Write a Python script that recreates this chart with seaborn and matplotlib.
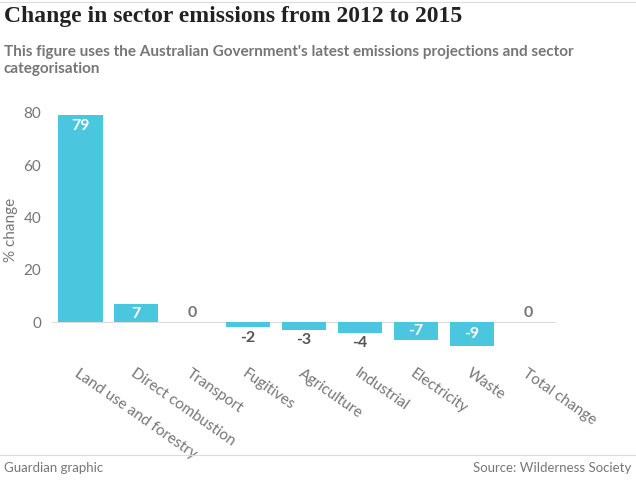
import matplotlib
matplotlib.use("Agg")
import matplotlib.pyplot as plt
import seaborn as sns
import pandas as pd

sectors = ["Land use and forestry", "Direct combustion", "Transport", "Fugitives",
           "Agriculture", "Industrial", "Electricity", "Waste", "Total change"]
change = [79, 7, 0, -2, -3, -4, -7, -9, 0]

df = pd.DataFrame({"sector": sectors, "change": change})

sns.set_style("white")
plt.rcParams['font.family'] = ['Lato', 'DejaVu Sans']

fig = plt.figure(figsize=(6.36, 4.82), dpi=100)
ax = fig.add_axes([0.082, 0.28, 0.792, 0.486])
sns.barplot(data=df, x="sector", y="change", color="#4bc6df", saturation=1, width=0.8,
            linewidth=0, ax=ax)

ax.set_ylim(-9.5, 80)
ax.set_yticks([0, 20, 40, 60, 80])
ax.tick_params(axis="y", colors="#767676", labelsize=11, length=0, pad=8)
ax.tick_params(axis="x", colors="#767676", labelsize=11, length=0, pad=14)
plt.setp(ax.get_xticklabels(), rotation=-35, ha="left", rotation_mode="anchor")
ax.set_xlabel("")
ax.set_ylabel("% change", color="#767676", fontsize=11)
for s in ax.spines.values():
    s.set_visible(False)
ax.axhline(0, color="#dcdcdc", lw=0.8, zorder=0)

for i, v in enumerate(change):
    if v >= 5:
        ax.text(i, v - 1.2, str(v), ha="center", va="top", color="white", fontsize=11.5, fontweight="bold")
    elif v == 0:
        ax.text(i, 1, "0", ha="center", va="bottom", color="#767676", fontsize=11.5, fontweight="bold")
    elif v > -5:
        ax.text(i, v - 1.2, str(v), ha="center", va="top", color="#555555", fontsize=11.5, fontweight="bold")
    else:
        ax.text(i, v / 2, str(v), ha="center", va="center", color="white", fontsize=11.5, fontweight="bold")

fig.text(0.006, 0.965, "Change in sector emissions from 2012 to 2015", fontsize=17,
         fontweight="bold", family=["Liberation Serif"], color="#222222", va="center")
fig.text(0.006, 0.875, "This figure uses the Australian Government's latest emissions projections and sector\ncategorisation",
         fontsize=11, fontweight="bold", color="#767676", va="center", linespacing=1.3)
fig.add_artist(plt.Line2D([0, 1], [0.995, 0.995], color="#dcdcdc", lw=0.8))
fig.add_artist(plt.Line2D([0, 1], [0.056, 0.056], color="#dcdcdc", lw=0.8))
fig.text(0.006, 0.03, "Guardian graphic", fontsize=9.5, color="#767676", va="center")
fig.text(0.992, 0.03, "Source: Wilderness Society", fontsize=9.5, color="#767676", va="center", ha="right")

fig.savefig("out.png", dpi=100)
